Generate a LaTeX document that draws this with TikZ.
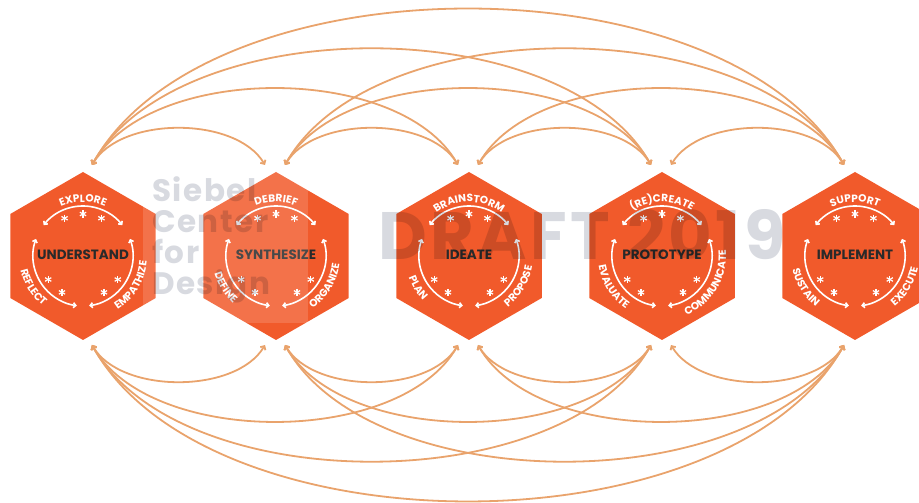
\documentclass[tikz,border=0pt]{standalone}
\usepackage{fontspec}
\setmainfont{Poppins}
\newfontfamily\wmfont[LetterSpace=5]{Poppins}
\usetikzlibrary{shapes.geometric,arrows.meta,decorations.text}

\definecolor{hexorange}{HTML}{F15A2B}
\definecolor{linkorange}{HTML}{E9A36C}
\definecolor{inktext}{HTML}{2A2A2A}
\definecolor{wmgray}{HTML}{D8DAE0}

\newcommand{\lblfont}{\fontsize{10.5}{10.5}\selectfont\bfseries}

\tikzset{
  hexbox/.style={regular polygon, regular polygon sides=6, shape border rotate=30,
    minimum size=168pt, inner sep=0pt, outer sep=0pt, fill=hexorange, text=inktext,
    font=\fontsize{13.5}{13.5}\selectfont\bfseries},
  link/.style={draw=linkorange, line width=1.8pt, <->, >={Straight Barb[length=3pt,width=6pt]}},
  ring/.style={draw=white, line width=1.6pt, <->, >={Straight Barb[length=2.5pt,width=5pt]}},
  ast/.pic={\foreach \s in {30,90,150} \draw[white, line width=1.2pt] (\s:3.6pt) -- (\s+180:3.6pt);}
}

\begin{document}
\begin{tikzpicture}[x=1pt,y=1pt]
    \useasboundingbox (0,0) rectangle (919,503);
    % the five phases
    \foreach \nm/\x/\ttl/\upword/\rword/\lword in {und/83/UNDERSTAND/EXPLORE/EMPATHIZE/REFLECT,
        syn/276/SYNTHESIZE/DEBRIEF/ORGANIZE/DEFINE, ide/469/IDEATE/BRAINSTORM/PROPOSE/PLAN,
        pro/662/PROTOTYPE/(RE)CREATE/COMMUNICATE/EVALUATE, imp/855/IMPLEMENT/SUPPORT/EXECUTE/SUSTAIN}
    {
      \node[hexbox, text height=9.5pt, text depth=3pt] (\nm) at (\x,247) {\ttl};
      \coordinate (\nm-tl) at ([shift={(-11pt,91pt)}]\nm.center);
      \coordinate (\nm-tr) at ([shift={(9pt,91pt)}]\nm.center);
      \coordinate (\nm-bl) at ([shift={(-11pt,-89pt)}]\nm.center);
      \coordinate (\nm-br) at ([shift={(9pt,-89pt)}]\nm.center);
      % inner cycle
      \draw[ring] ([shift={(142:50pt)}]\nm.center) arc[start angle=142, end angle=38, radius=50pt];
      \draw[ring] ([shift={(160:50pt)}]\nm.center) arc[start angle=160, end angle=263, radius=50pt];
      \draw[ring] ([shift={(20:50pt)}]\nm.center) arc[start angle=20, end angle=-83, radius=50pt];
      \path[decorate, decoration={text along path, text align=center, text color=white,
          text/.expanded={|\noexpand\lblfont|\upword}}]
        ([shift={(165:54pt)}]\nm.center) arc[start angle=165, end angle=15, radius=54pt];
      \path[decorate, decoration={text along path, text align=center, text color=white,
          text/.expanded={|\noexpand\lblfont|\rword}}]
        ([shift={(-86:64pt)}]\nm.center) arc[start angle=-86, end angle=24, radius=64pt];
      \path[decorate, decoration={text along path, text align=center, text color=white,
          text/.expanded={|\noexpand\lblfont|\lword}}]
        ([shift={(157:64pt)}]\nm.center) arc[start angle=157, end angle=267, radius=64pt];
      \foreach \a in {64,90,116,214,240,-34,-60}
        \pic at ([shift={(\a:42pt)}]\nm.center) {ast};
    }
    % links between phases
    \foreach \a/\b/\k in {und/syn/1, syn/ide/1, ide/pro/1, pro/imp/1, und/ide/2, syn/pro/2,
        ide/imp/2, und/pro/3, syn/imp/3, und/imp/4}
    {
      \draw[link] (\a-tr) .. controls +(29*\k,53*\k-4) and +(-29*\k,53*\k-4) .. (\b-tl);
      \draw[link] (\a-br) .. controls +(29*\k,-53*\k+4) and +(-29*\k,-53*\k+4) .. (\b-bl);
    }
    % watermark
    \fill[white, fill opacity=0.15] (143,180) rectangle (308,335);
    \begin{scope}[blend mode=multiply]
      \node[anchor=north west, inner sep=0pt, align=left, text=wmgray,
        font=\wmfont\fontsize{31}{31}\selectfont\bfseries] (sieb) at (152,327) {Siebel\\Center\\for\\Design};
      \node[anchor=base west, inner sep=0pt, text=wmgray,
        font=\wmfont\fontsize{67}{67}\selectfont\bfseries] (draft) at (378,243) {DRAFT 2019};
    \end{scope}
\end{tikzpicture}
\end{document}
